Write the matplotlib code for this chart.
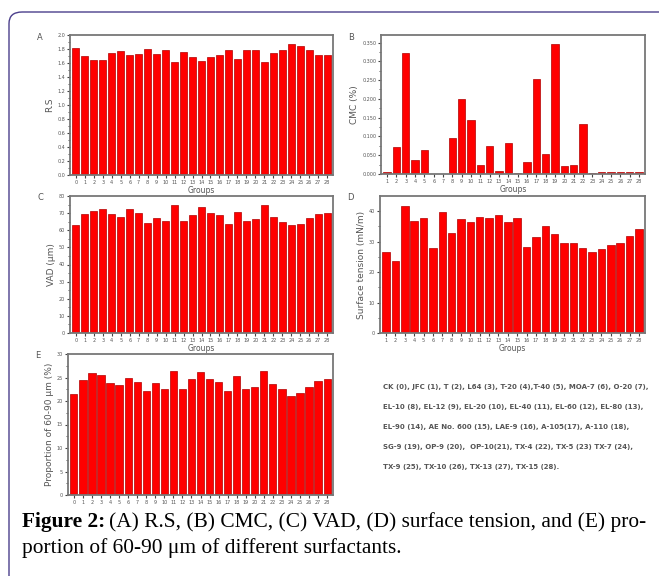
import numpy as np
import matplotlib
matplotlib.use("Agg")
from matplotlib import pyplot as plt
from matplotlib.patches import FancyBboxPatch

# values
groups_0_28 = list(range(0, 29))
groups_1_28 = list(range(1, 29))

rs = [1.82, 1.70, 1.64, 1.65, 1.74, 1.77, 1.71, 1.73, 1.80, 1.73,
      1.78, 1.62, 1.76, 1.68, 1.63, 1.69, 1.72, 1.78, 1.66, 1.79,
      1.79, 1.61, 1.74, 1.78, 1.87, 1.85, 1.78, 1.71, 1.71]

cmc = [0.005, 0.071, 0.322, 0.037, 0.063, 0.001, 0.001, 0.097, 0.199, 0.143,
       0.025, 0.075, 0.008, 0.083, 0.002, 0.033, 0.253, 0.054, 0.345, 0.022,
       0.025, 0.134, 0.002, 0.004, 0.004, 0.004, 0.004, 0.006]

vad = [62.9, 69.4, 71.4, 72.2, 69.2, 67.8, 72.4, 69.8, 64.3, 67.3,
       65.3, 74.5, 65.3, 69.0, 73.3, 69.8, 68.8, 63.7, 70.8, 65.3,
       66.3, 74.5, 67.6, 64.9, 63.1, 63.9, 66.9, 69.4, 70.2]

tension = [26.5, 23.8, 41.6, 36.7, 37.8, 28.0, 39.6, 32.9, 37.3, 36.5,
           38.1, 37.7, 38.7, 36.5, 37.9, 28.4, 31.5, 35.3, 32.6, 29.5,
           29.5, 27.9, 26.5, 27.5, 28.8, 29.7, 32.0, 34.0]

prop = [21.5, 24.5, 25.9, 25.6, 23.9, 23.4, 25.0, 24.1, 22.1, 23.8,
        22.6, 26.4, 22.6, 24.6, 26.1, 24.6, 24.1, 22.2, 25.3, 22.5,
        22.9, 26.4, 23.6, 22.5, 21.1, 21.6, 22.9, 24.2, 24.6]

legend_lines = [
    "CK (0), JFC (1), T (2), L64 (3), T-20 (4),T-40 (5), MOA-7 (6), O-20 (7),",
    "EL-10 (8), EL-12 (9), EL-20 (10), EL-40 (11), EL-60 (12), EL-80 (13),",
    "EL-90 (14), AE No. 600 (15), LAE-9 (16), A-105(17), A-110 (18),",
    "SG-9 (19), OP-9 (20),  OP-10(21), TX-4 (22), TX-5 (23) TX-7 (24),",
    "TX-9 (25), TX-10 (26), TX-13 (27), TX-15 (28).",
]

W, H = 659, 576
grey = "#555555"


def box(x0, y0, x1, y1):
    # pixel box -> figure fraction
    return [x0 / W, 1 - y1 / H, (x1 - x0) / W, (y1 - y0) / H]


def bar_panel(fig, rect, xs, ys, ylim, yticks, ylabel, letter, xlabel=True, yfmt="{:.1f}"):
    ax = fig.add_axes(box(*rect))
    ax.bar(xs, ys, width=0.8, color="#ff0000", edgecolor="#b00000", linewidth=0.5)
    ax.set_xlim(xs[0] - 0.65, xs[-1] + 0.65)
    ax.set_ylim(*ylim)
    ax.set_xticks(xs)
    ax.set_xticklabels([str(x) for x in xs], fontsize=3.5, color=grey)
    ax.set_yticks(yticks)
    ax.set_yticklabels([yfmt.format(t) for t in yticks], fontsize=3.5, color=grey)
    ax.set_yticks([(a + b) / 2 for a, b in zip(yticks[:-1], yticks[1:])], minor=True)
    ax.tick_params(axis="both", length=2, width=0.8, pad=1.5, color="#444444")
    ax.tick_params(axis="y", which="minor", length=1.2, width=0.6, color="#444444")
    for s in ax.spines.values():
        s.set_color("#777777")
        s.set_linewidth(1.3)
    ax.set_ylabel(ylabel, fontsize=6.5, color=grey, labelpad=2)
    if xlabel:
        ax.set_xlabel("Groups", fontsize=5.5, color=grey, labelpad=1)
    fig.text((rect[0] - 33) / W, 1 - (rect[1] + 2) / H, letter, fontsize=6,
             color=grey, ha="left", va="center")
    return ax


def main():
    fig = plt.figure(figsize=(W / 100, H / 100), dpi=100)

    # outer frame with rounded corner
    frame = FancyBboxPatch((9 / W, -0.2), 1.2, 1 - 12 / H + 0.2,
                           boxstyle="round,pad=0,rounding_size=0.02",
                           transform=fig.transFigure, fill=False,
                           edgecolor="#4b3f8c", linewidth=1.0)
    fig.patches.append(frame)

    bar_panel(fig, (70, 35, 333, 175), groups_0_28, rs, (0, 2.0),
              list(np.arange(0, 2.01, 0.2)), "R.S", "A")
    bar_panel(fig, (381, 35, 645, 174), groups_1_28, cmc, (0, 0.37),
              list(np.arange(0, 0.351, 0.05)), "CMC (%)", "B", yfmt="{:.3f}")
    bar_panel(fig, (70, 196, 333, 333), groups_0_28, vad, (0, 80),
              list(range(0, 81, 10)), "VAD (\u03bcm)", "C", yfmt="{:.0f}")
    bar_panel(fig, (380, 196, 645, 333), groups_1_28, tension, (0, 45),
              list(range(0, 41, 10)), "Surface tension (mN/m)", "D", yfmt="{:.0f}")
    bar_panel(fig, (68, 354, 333, 495), groups_0_28, prop, (0, 30),
              list(range(0, 31, 5)), "Proportion of 60-90 \u03bcm (%)", "E",
              xlabel=False, yfmt="{:.0f}")

    for i, line in enumerate(legend_lines):
        fig.text(383 / W, 1 - (387 + 20 * i) / H, line, fontsize=5.0,
                 fontweight="bold", color=grey, ha="left", va="center")

    # caption: bold lead-in, then the rest placed right after it
    serif = ["Liberation Serif", "DejaVu Serif"]
    fs = 15.4
    lead = fig.text(22 / W, 1 - 522 / H, "Figure 2:", fontsize=fs, fontweight="bold",
                    ha="left", va="center", family=serif)
    renderer = fig.canvas.get_renderer()
    x_end = lead.get_window_extent(renderer).x1
    fig.text(x_end / W + 4 / W, 1 - 522 / H,
             "(A) R.S, (B) CMC, (C) VAD, (D) surface tension, and (E) pro-",
             fontsize=fs, ha="left", va="center", family=serif)
    fig.text(22 / W, 1 - 548 / H, "portion of 60-90 \u03bcm of different surfactants.",
             fontsize=fs, ha="left", va="center", family=serif)

    fig.savefig("out.png", dpi=100, facecolor="white")


if __name__ == "__main__":
    main()
